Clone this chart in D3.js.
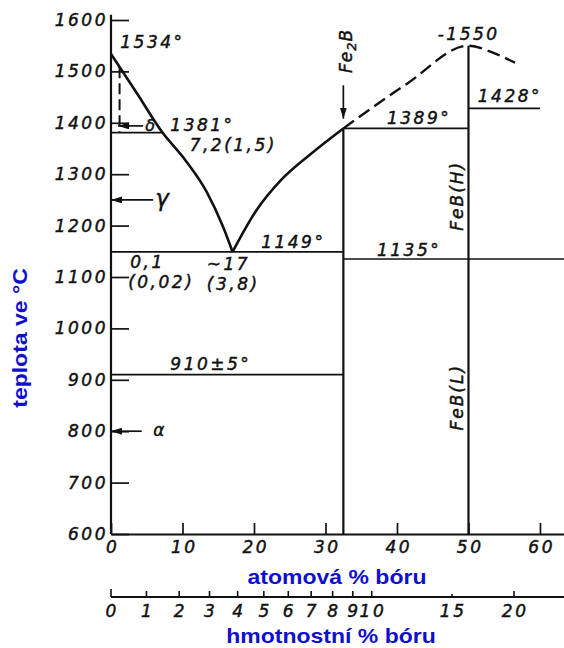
<!DOCTYPE html>
<html>
<head>
<meta charset="utf-8">
<script src="https://cdn.jsdelivr.net/npm/d3@7"></script>
<style>
  html, body { margin: 0; padding: 0; background: #fff; }
  svg { display: block; }
  .lettering, .tick text {
    font-family: "DejaVu Sans", sans-serif;
    font-style: italic;
    font-size: 17px;
    letter-spacing: 2.5px;
    fill: #111;
    stroke: #111;
    stroke-width: 0.45px;
  }
  .caption {
    font-family: "Liberation Sans", Arial, sans-serif;
    font-weight: bold;
    font-size: 20px;
    fill: #1010cc;
  }
</style>
</head>
<body>
<svg id="chart" width="564" height="648"></svg>
<script>
// ---- axis ticks ----
const tempTicks = [600, 700, 800, 900, 1000, 1100, 1200, 1300, 1400, 1500, 1600];
const atTicks = [0, 10, 20, 30, 40, 50, 60];
const wtTicks = [0, 1, 2, 3, 4, 5, 6, 7, 8, 9, 10, 15, 20];

// ---- phase boundaries, [at.% B, °C] ----
const liquidusFeSide = [[0, 1534], [3.6, 1458], [7.2, 1381], [10.3, 1329], [13.4, 1265], [15.6, 1200], [17, 1149]];
const liquidusBSide = [[17, 1149], [20.3, 1229], [23.8, 1289], [27.9, 1339], [32.5, 1389]];
const liquidusEstimated = [[32.5, 1389], [41.4, 1476], [50, 1550], [53.5, 1536], [56.5, 1517]];
const deltaBoundary = [[1.2, 1508], [1.2, 1381]];

// horizontal invariant lines: [from at.%, to at.%, °C]
const isotherms = [[0, 7.2, 1381], [32.5, 50, 1389], [50, 60, 1428], [0, 32.5, 1149], [32.5, 63.36, 1135], [0, 32.5, 910]];
// compound lines Fe2B and FeB: [at.%, top °C]
const compounds = [[32.5, 1389], [50, 1550]];

// ---- text annotations, anchored at [at.%, °C] ----
const notes = [
  { text: "1534°", at: 1.3, temp: 1546 },
  { text: "1381°", at: 8.3, temp: 1385 },
  { text: "7,2(1,5)", at: 11, temp: 1346 },
  { text: "1149°", at: 21, temp: 1157 },
  { text: "~17", at: 13.4, temp: 1114 },
  { text: "(3,8)", at: 13.4, temp: 1075 },
  { text: "0,1", at: 2.7, temp: 1118 },
  { text: "(0,02)", at: 2.4, temp: 1079 },
  { text: "910±5°", at: 8.3, temp: 920 },
  { text: "1135°", at: 37.2, temp: 1141 },
  { text: "1389°", at: 38.6, temp: 1397 },
  { text: "1428°", at: 51.3, temp: 1440 },
  { text: "-1550", at: 45.7, temp: 1562 }
];
const phaseNames = [
  { text: "δ", at: 4.8, temp: 1385, size: 16 },
  { text: "γ", at: 6.2, temp: 1238, size: 23 },
  { text: "α", at: 5.9, temp: 790, size: 17 }
];
const arrows = [
  { from: [4.5, 1394], to: [1.0, 1394] },
  { from: [5.9, 1250], to: [0, 1250] },
  { from: [4.3, 800], to: [0, 800] },
  { from: [32.5, 1473], to: [32.5, 1408] }
];
const compoundNames = [
  { main: "FeB(H)", at: 49.3, temp: 1258 },
  { main: "FeB(L)", at: 49.3, temp: 866 }
];

// atomic masses for converting wt.% B to at.% B
const B_MASS = 10.81, FE_MASS = 55.845;
const wtToAt = w => {
  const b = w / B_MASS, fe = (100 - w) / FE_MASS;
  return 100 * b / (b + fe);
};

const svg = d3.select("#chart");
const x = d3.scaleLinear().domain([0, 63.36]).range([111, 564]);
const y = d3.scaleLinear().domain([600, 1600]).range([534, 20]);
const ink = "#111";

// arrowhead
svg.append("defs").append("marker")
  .attr("id", "head").attr("viewBox", "0 0 11 7")
  .attr("refX", 11).attr("refY", 3.5)
  .attr("markerWidth", 11).attr("markerHeight", 7)
  .attr("markerUnits", "userSpaceOnUse").attr("orient", "auto")
  .append("path").attr("d", "M0,0L11,3.5L0,7Z").attr("fill", ink);

// ---- temperature axis ----
const yAxis = d3.axisLeft(y).tickValues(tempTicks)
  .tickSizeInner(-18).tickSizeOuter(0).tickPadding(3).tickFormat(d3.format("d"));
const gy = svg.append("g").attr("transform", `translate(${x(0)},0)`).call(yAxis);
gy.select(".domain").remove();
gy.selectAll(".tick line").attr("stroke", ink).attr("stroke-width", 1.7);
svg.append("line")
  .attr("x1", x(0)).attr("x2", x(0)).attr("y1", y(600)).attr("y2", y(1610))
  .attr("stroke", ink).attr("stroke-width", 2.2);

// ---- atomic % axis ----
const xAxis = d3.axisBottom(x).tickValues(atTicks)
  .tickSizeInner(-11).tickSizeOuter(0).tickPadding(7).tickFormat(d3.format("d"));
const gx = svg.append("g").attr("transform", `translate(0,${y(600)})`).call(xAxis);
gx.select(".domain").attr("stroke", ink).attr("stroke-width", 2);
gx.selectAll(".tick line").attr("stroke", ink).attr("stroke-width", 1.7);
gx.selectAll(".tick text").attr("dx", "1.2");

// ---- weight % axis ----
const wtY = 597;
const gw = svg.append("g");
gw.append("line").attr("x1", x(0)).attr("x2", x.range()[1]).attr("y1", wtY).attr("y2", wtY)
  .attr("stroke", ink).attr("stroke-width", 2);
gw.selectAll("line.wt").data(wtTicks).join("line").attr("class", "wt")
  .attr("x1", d => x(wtToAt(d))).attr("x2", d => x(wtToAt(d)))
  .attr("y1", wtY).attr("y2", d => d === 0 ? wtY - 8 : (d === 15 ? wtY - 3 : wtY - 6))
  .attr("stroke", ink).attr("stroke-width", 1.6);
gw.selectAll("text").data(wtTicks).join("text").attr("class", "lettering")
  .attr("x", d => x(wtToAt(d)) + 1.2).attr("y", 617)
  .attr("text-anchor", "middle").text(d => d);

// ---- invariant lines ----
svg.append("g").selectAll("line").data(isotherms).join("line")
  .attr("x1", d => x(d[0])).attr("x2", d => x(d[1]))
  .attr("y1", d => y(d[2])).attr("y2", d => y(d[2]))
  .attr("stroke", ink).attr("stroke-width", 1.7);

// ---- compound lines ----
svg.append("g").selectAll("line").data(compounds).join("line")
  .attr("x1", d => x(d[0])).attr("x2", d => x(d[0]))
  .attr("y1", y(600)).attr("y2", d => y(d[1]))
  .attr("stroke", ink).attr("stroke-width", 2.2);

// ---- liquidus ----
const curve = d3.line().x(d => x(d[0])).y(d => y(d[1])).curve(d3.curveMonotoneX);
svg.append("path").datum(liquidusFeSide).attr("d", curve)
  .attr("fill", "none").attr("stroke", ink).attr("stroke-width", 2.6);
svg.append("path").datum(liquidusBSide).attr("d", curve)
  .attr("fill", "none").attr("stroke", ink).attr("stroke-width", 2.6);
svg.append("path").datum(liquidusEstimated).attr("d", curve)
  .attr("fill", "none").attr("stroke", ink).attr("stroke-width", 2.4)
  .attr("stroke-dasharray", "13,6");
svg.append("path").datum(deltaBoundary).attr("d", d3.line().x(d => x(d[0])).y(d => y(d[1])))
  .attr("fill", "none").attr("stroke", ink).attr("stroke-width", 2)
  .attr("stroke-dasharray", "11,5");

// ---- arrows ----
svg.append("g").selectAll("line").data(arrows).join("line")
  .attr("x1", d => x(d.from[0])).attr("y1", d => y(d.from[1]))
  .attr("x2", d => x(d.to[0])).attr("y2", d => y(d.to[1]))
  .attr("stroke", ink).attr("stroke-width", 1.7)
  .attr("marker-end", "url(#head)");

// ---- annotations ----
svg.append("g").selectAll("text").data(notes).join("text").attr("class", "lettering")
  .attr("x", d => x(d.at)).attr("y", d => y(d.temp)).text(d => d.text);
svg.append("g").selectAll("text").data(phaseNames).join("text").attr("class", "lettering")
  .attr("x", d => x(d.at)).attr("y", d => y(d.temp))
  .style("font-size", d => d.size + "px").text(d => d.text);
svg.append("g").selectAll("text").data(compoundNames).join("text").attr("class", "lettering")
  .attr("transform", d => `translate(${x(d.at)},${y(d.temp)}) rotate(-90)`)
  .attr("text-anchor", "middle").style("letter-spacing", "2px").text(d => d.main);
const fe2b = svg.append("text").attr("class", "lettering")
  .attr("transform", `translate(${x(33.7)},${y(1540)}) rotate(-90)`)
  .attr("text-anchor", "middle").style("letter-spacing", "1px");
fe2b.append("tspan").text("Fe");
fe2b.append("tspan").attr("dy", 4).style("font-size", "13px").text("2");
fe2b.append("tspan").attr("dy", -4).text("B");

// ---- axis captions ----
svg.append("text").attr("class", "caption").attr("text-anchor", "middle")
  .attr("transform", "translate(337,584) scale(1.15,1)").text("atomová % bóru");
svg.append("text").attr("class", "caption").attr("text-anchor", "middle")
  .attr("transform", "translate(331,643) scale(1.15,1)").text("hmotnostní % bóru");
svg.append("text").attr("class", "caption").attr("text-anchor", "middle")
  .attr("transform", "translate(27,338) rotate(-90) scale(1.15,1)").text("teplota ve °C");
</script>
</body>
</html>
